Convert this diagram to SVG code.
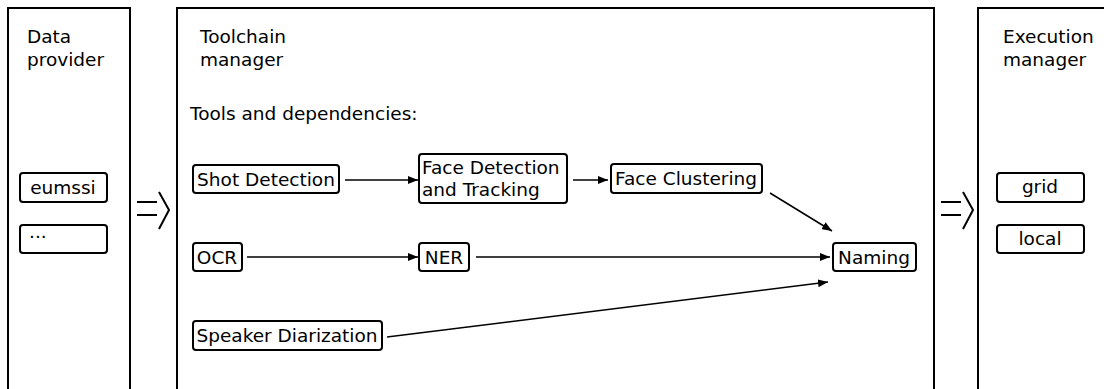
<svg xmlns="http://www.w3.org/2000/svg" width="1104" height="389" viewBox="0 0 1104 389">
<style>
text{font-family:"DejaVu Sans",sans-serif;font-size:18.5px;fill:#000}
.panel{fill:#fff;stroke:#000;stroke-width:2}
.box{fill:#fff;stroke:#000;stroke-width:2}
.c{text-anchor:middle}
.conn line{stroke:#000;stroke-width:1.5}
.dbl{fill:none;stroke:#000;stroke-width:2}
</style>
<defs>
<marker id="ah" viewBox="0 0 10 8" refX="10" refY="4" markerWidth="10" markerHeight="8" markerUnits="userSpaceOnUse" orient="auto">
<path d="M0,0 L10,4 L0,8 z" fill="#000"/>
</marker>
</defs>
<rect width="1104" height="389" fill="#fff"/>
<g id="data-provider">
<rect class="panel" x="8" y="8" width="122" height="400"/>
<text x="27" y="43">Data</text>
<text x="27" y="66">provider</text>
</g>
<g id="toolchain-manager">
<rect class="panel" x="177" y="8" width="757" height="400"/>
<text x="200" y="43">Toolchain</text>
<text x="200" y="66">manager</text>
<text x="190" y="120">Tools and dependencies:</text>
</g>
<g id="execution-manager">
<rect class="panel" x="978" y="8" width="140" height="400"/>
<text x="1003" y="43">Execution</text>
<text x="1003" y="66">manager</text>
</g>
<g id="eumssi"><rect class="box" x="20" y="173" width="87" height="29" rx="3"/><text class="c" x="63" y="194">eumssi</text></g>
<g id="more"><rect class="box" x="20" y="225" width="87" height="28" rx="3"/><text x="29" y="238">...</text></g>
<g id="grid"><rect class="box" x="997" y="173" width="87" height="29" rx="3"/><text class="c" x="1040" y="193">grid</text></g>
<g id="local"><rect class="box" x="997" y="225" width="87" height="28" rx="3"/><text class="c" x="1040" y="245">local</text></g>
<g id="shot-detection"><rect class="box" x="193" y="165" width="146" height="28" rx="3"/><text class="c" x="266" y="186">Shot Detection</text></g>
<g id="face-detection"><rect class="box" x="419" y="154" width="148" height="49" rx="3"/><text x="422" y="174">Face Detection</text><text x="422" y="196">and Tracking</text></g>
<g id="face-clustering"><rect class="box" x="611" y="164" width="151" height="29" rx="3"/><text class="c" x="686" y="185">Face Clustering</text></g>
<g id="ocr"><rect class="box" x="193" y="243" width="49" height="28" rx="3"/><text class="c" x="217" y="264">OCR</text></g>
<g id="ner"><rect class="box" x="419" y="243" width="50" height="28" rx="3"/><text class="c" x="444" y="264">NER</text></g>
<g id="naming"><rect class="box" x="833" y="243" width="83" height="28" rx="3"/><text class="c" x="874" y="264">Naming</text></g>
<g id="speaker-diarization"><rect class="box" x="193" y="321" width="189" height="29" rx="3"/><text class="c" x="287" y="342">Speaker Diarization</text></g>
<g id="connectors" class="conn">
<line x1="345" y1="180" x2="418" y2="180" marker-end="url(#ah)"/>
<line x1="573" y1="180" x2="608" y2="180" marker-end="url(#ah)"/>
<line x1="770" y1="193" x2="832" y2="231" marker-end="url(#ah)"/>
<line x1="247" y1="257" x2="418" y2="257" marker-end="url(#ah)"/>
<line x1="476" y1="257" x2="830" y2="257" marker-end="url(#ah)"/>
<line x1="387" y1="337" x2="828" y2="282" marker-end="url(#ah)"/>
<g class="dbl">
<path d="M137,202 H157 M137,215 H157 M159,192 L169,210 L159,229"/>
<path d="M941,202 H961 M941,215 H961 M963,192 L973,210 L963,229"/>
</g>
</g>
</svg>
